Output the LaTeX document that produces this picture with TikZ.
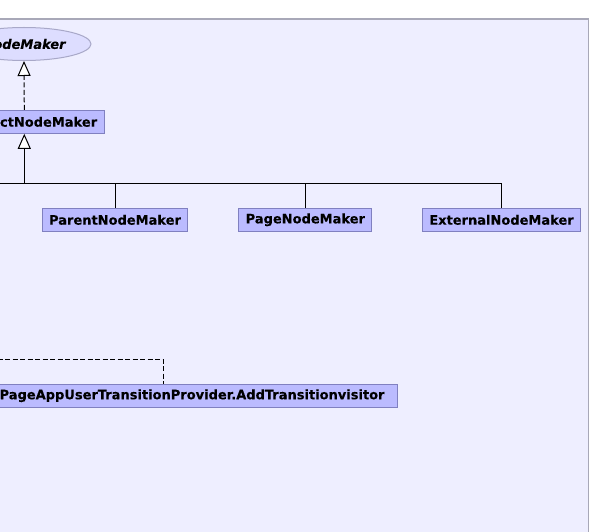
\documentclass[tikz,border=0pt]{standalone}
\usepackage{fontspec}
\setmainfont{DejaVu Sans}[BoldFeatures={FakeBold=0.2},BoldItalicFeatures={FakeBold=0.2}]
\usetikzlibrary{arrows.meta,shapes.geometric}
\definecolor{panelfill}{HTML}{EEEEFF}
\definecolor{paneldraw}{HTML}{A8A8B8}
\definecolor{boxfill}{HTML}{BBBBFF}
\definecolor{boxdraw}{HTML}{8080C0}
\definecolor{ifill}{HTML}{DDDDFF}
\definecolor{idraw}{HTML}{A8A8C8}
\tikzset{
  cls/.style={draw=boxdraw, fill=boxfill, line width=1pt, rectangle,
    minimum height=23pt, inner xsep=7pt, inner ysep=0pt,
    font=\fontsize{13}{15}\selectfont\bfseries},
  iface/.style={draw=idraw, fill=ifill, line width=1pt, ellipse,
    minimum width=134pt, minimum height=33pt, inner sep=0pt,
    font=\fontsize{13}{15}\selectfont\bfseries\itshape},
  conn/.style={line width=1pt, black},
  realize/.style={conn, dash pattern=on 5pt off 2.5pt},
  dep/.style={conn, dash pattern=on 5pt off 2.5pt},
  inh/.style={-{Triangle[fill=white, length=15pt, width=13pt, line width=1pt]}},
}
\begin{document}
\begin{tikzpicture}[x=1pt,y=-1pt]
\useasboundingbox (0,0) rectangle (591,532);
\fill[panelfill, draw=paneldraw, line width=1.2pt] (-10,19) rectangle (588.3,560);

\node[iface] (nm) at (24,44) {NodeMaker};
\node[cls] (anm) at (24.3,121.8) {AbstractNodeMaker};
\node[cls] (pnm) at (115,219.8) {ParentNodeMaker};
\node[cls] (pgnm) at (305.3,219.8) {PageNodeMaker};
\node[cls] (enm) at (501.5,219.8) {ExternalNodeMaker};
\node[cls, inner xsep=12.7pt, anchor=east] (atv) at (397.7,395.7) {PageAppUserTransitionProvider.AddTransitionvisitor};

% realization
\draw[realize, inh] (anm.north) -- (nm.south);

% inheritance tree
\coordinate (busL) at (-10,183.3);
\coordinate (busR) at (enm.north |- busL);
\coordinate (busA) at (anm.south |- busL);
\draw[conn, inh] (busA) -- (anm.south);
\draw[conn] (busL) -- (busR) -- (enm.north);
\draw[conn] (pnm.north) -- (pnm.north |- busL);
\draw[conn] (pgnm.north) -- (pgnm.north |- busL);

% dependency
\coordinate (depL) at (-10,359.3);
\coordinate (depC) at (163.3,359.3);
\draw[dep] (depL) -- (depC) -- (depC |- atv.north);
\end{tikzpicture}
\end{document}
